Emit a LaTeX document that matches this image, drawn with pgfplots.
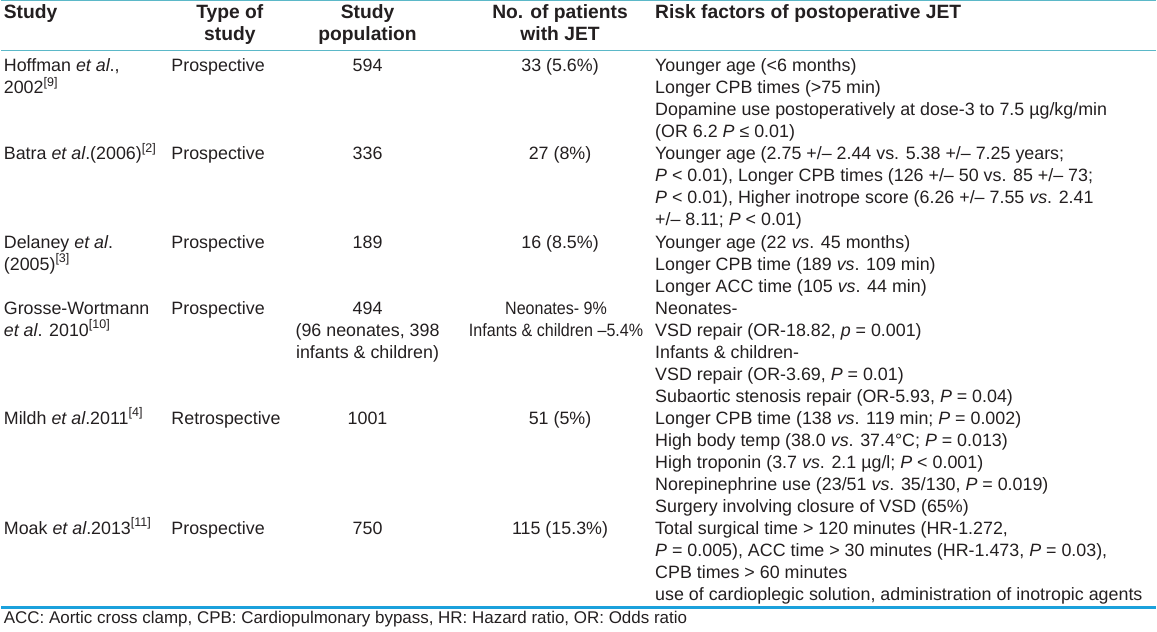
\documentclass[border=0pt]{standalone}
\usepackage{pgfplots}
\pgfplotsset{compat=1.18}
\usepackage{fontspec}
\setmainfont{Liberation Sans}
\newfontfamily\narrow[FakeStretch=0.9]{Liberation Sans}
\definecolor{txt}{HTML}{231F20}
\definecolor{rule}{HTML}{5BB8C8}
\definecolor{brule}{HTML}{1BA1DC}
\newcommand{\bl}[1]{72+22.08*#1}
\begin{document}
\begin{tikzpicture}[
  body/.style={inner sep=0pt, text=txt, font=\fontsize{8.95}{10}\selectfont},
  hd/.style={inner sep=0pt, text=txt, font=\fontsize{9.65}{11}\selectfont\bfseries},
  L/.style={body, anchor=base west},
  C/.style={body, anchor=base},
]
\begin{axis}[
  width=578.5pt, height=316.5pt, scale only axis,
  xmin=0, xmax=1157, ymin=0, ymax=633, y dir=reverse,
  hide axis, clip=false, enlargelimits=false,
]
\addplot[draw=none, forget plot] coordinates {(0,0) (1157,633)};
% rules
\addplot[rule, line width=0.6pt, forget plot] coordinates {(0,0.6) (1157,0.6)};
\addplot[rule, line width=0.6pt, forget plot] coordinates {(0,51) (1157,51)};
\addplot[brule, line width=1.5pt, forget plot] coordinates {(0,609) (1157,609)};
% header
\node[hd, anchor=base west] at (axis cs:2,19) {Study};
\node[hd, anchor=base] at (axis cs:229,19) {Type of};
\node[hd, anchor=base] at (axis cs:229,41) {study};
\node[hd, anchor=base] at (axis cs:367,19) {Study};
\node[hd, anchor=base] at (axis cs:367,41) {population};
\node[hd, anchor=base] at (axis cs:560,19) {No. of patients};
\node[hd, anchor=base] at (axis cs:560,41) {with JET};
\node[hd, anchor=base west] at (axis cs:655,19) {Risk factors of postoperative JET};
% Hoffman
\node[L] at (axis cs:2,\bl{0}) {Hoffman \textit{et al}.,};
\node[L] at (axis cs:2,\bl{1}) {2002\textsuperscript{[9]}};
\node[L] at (axis cs:170,\bl{0}) {Prospective};
\node[C] at (axis cs:367,\bl{0}) {594};
\node[C] at (axis cs:560,\bl{0}) {33 (5.6\%)};
\node[L] at (axis cs:655,\bl{0}) {Younger age (<6 months)};
\node[L] at (axis cs:655,\bl{1}) {Longer CPB times (>75 min)};
\node[L] at (axis cs:655,\bl{2}) {Dopamine use postoperatively at dose-3 to 7.5 µg/kg/min};
\node[L] at (axis cs:655,\bl{3}) {(OR 6.2 \textit{P} ≤ 0.01)};
% Batra
\node[L] at (axis cs:2,\bl{4}) {Batra \textit{et al}.(2006)\textsuperscript{[2]}};
\node[L] at (axis cs:170,\bl{4}) {Prospective};
\node[C] at (axis cs:367,\bl{4}) {336};
\node[C] at (axis cs:560,\bl{4}) {27 (8\%)};
\node[L] at (axis cs:655,\bl{4}) {Younger age (2.75 +/– 2.44 vs. 5.38 +/– 7.25 years;};
\node[L] at (axis cs:655,\bl{5}) {\textit{P} < 0.01), Longer CPB times (126 +/– 50 vs. 85 +/– 73;};
\node[L] at (axis cs:655,\bl{6}) {\textit{P} < 0.01), Higher inotrope score (6.26 +/– 7.55 \textit{vs}. 2.41};
\node[L] at (axis cs:655,\bl{7}) {+/– 8.11; \textit{P} < 0.01)};
% Delaney
\node[L] at (axis cs:2,\bl{8}) {Delaney \textit{et al}.};
\node[L] at (axis cs:2,\bl{9}) {(2005)\textsuperscript{[3]}};
\node[L] at (axis cs:170,\bl{8}) {Prospective};
\node[C] at (axis cs:367,\bl{8}) {189};
\node[C] at (axis cs:560,\bl{8}) {16 (8.5\%)};
\node[L] at (axis cs:655,\bl{8}) {Younger age (22 \textit{vs}. 45 months)};
\node[L] at (axis cs:655,\bl{9}) {Longer CPB time (189 \textit{vs}. 109 min)};
\node[L] at (axis cs:655,\bl{10}) {Longer ACC time (105 \textit{vs}. 44 min)};
% Grosse-Wortmann
\node[L] at (axis cs:2,\bl{11}) {Grosse-Wortmann};
\node[L] at (axis cs:2,\bl{12}) {\textit{et al}. 2010\textsuperscript{[10]}};
\node[L] at (axis cs:170,\bl{11}) {Prospective};
\node[C] at (axis cs:367,\bl{11}) {494};
\node[C] at (axis cs:367,\bl{12}) {(96 neonates, 398};
\node[C] at (axis cs:367,\bl{13}) {infants \& children)};
\node[C] at (axis cs:556,\bl{11}) {\narrow Neonates- 9\%};
\node[C] at (axis cs:556,\bl{12}) {\narrow Infants \& children –5.4\%};
\node[L] at (axis cs:655,\bl{11}) {Neonates-};
\node[L] at (axis cs:655,\bl{12}) {VSD repair (OR-18.82, \textit{p} = 0.001)};
\node[L] at (axis cs:655,\bl{13}) {Infants \& children-};
\node[L] at (axis cs:655,\bl{14}) {VSD repair (OR-3.69, \textit{P} = 0.01)};
\node[L] at (axis cs:655,\bl{15}) {Subaortic stenosis repair (OR-5.93, \textit{P} = 0.04)};
% Mildh
\node[L] at (axis cs:2,\bl{16}) {Mildh \textit{et al}.2011\textsuperscript{[4]}};
\node[L] at (axis cs:170,\bl{16}) {Retrospective};
\node[C] at (axis cs:367,\bl{16}) {1001};
\node[C] at (axis cs:560,\bl{16}) {51 (5\%)};
\node[L] at (axis cs:655,\bl{16}) {Longer CPB time (138 \textit{vs}. 119 min; \textit{P} = 0.002)};
\node[L] at (axis cs:655,\bl{17}) {High body temp (38.0 \textit{vs}. 37.4°C; \textit{P} = 0.013)};
\node[L] at (axis cs:655,\bl{18}) {High troponin (3.7 \textit{vs}. 2.1 µg/l; \textit{P} < 0.001)};
\node[L] at (axis cs:655,\bl{19}) {Norepinephrine use (23/51 \textit{vs}. 35/130, \textit{P} = 0.019)};
\node[L] at (axis cs:655,\bl{20}) {Surgery involving closure of VSD (65\%)};
% Moak
\node[L] at (axis cs:2,\bl{21}) {Moak \textit{et al}.2013\textsuperscript{[11]}};
\node[L] at (axis cs:170,\bl{21}) {Prospective};
\node[C] at (axis cs:367,\bl{21}) {750};
\node[C] at (axis cs:560,\bl{21}) {115 (15.3\%)};
\node[L] at (axis cs:655,\bl{21}) {Total surgical time > 120 minutes (HR-1.272,};
\node[L] at (axis cs:655,\bl{22}) {\textit{P} = 0.005), ACC time > 30 minutes (HR-1.473, \textit{P} = 0.03),};
\node[L] at (axis cs:655,\bl{23}) {CPB times > 60 minutes};
\node[L] at (axis cs:655,\bl{24}) {use of cardioplegic solution, administration of inotropic agents};
% footnote
\node[inner sep=0pt, text=txt, font=\fontsize{8.5}{10}\selectfont, anchor=base west] at (axis cs:2,625) {ACC: Aortic cross clamp, CPB: Cardiopulmonary bypass, HR: Hazard ratio, OR: Odds ratio};
\end{axis}
\end{tikzpicture}
\end{document}
